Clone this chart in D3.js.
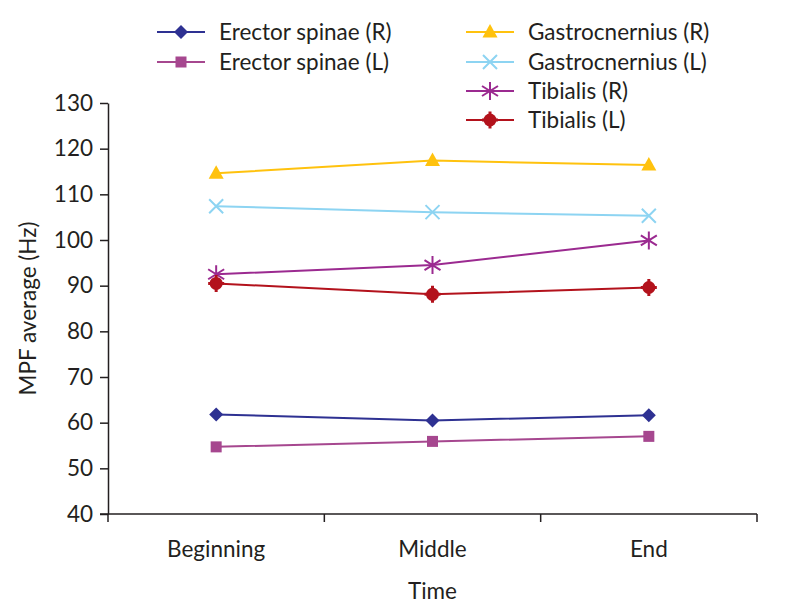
<!DOCTYPE html>
<html><head><meta charset="utf-8">
<script src="https://cdn.jsdelivr.net/npm/d3@7"></script>
<style>body{margin:0;background:#fff}svg{display:block}text{font-family:Lato,"Open Sans",sans-serif;fill:#231f20}</style>
</head><body><svg id="c" width="793" height="615"></svg>
<script>
const categories = ["Beginning","Middle","End"];
const seriesNames = ["Erector spinae (R)","Erector spinae (L)","Gastrocnernius (R)","Gastrocnernius (L)","Tibialis (R)","Tibialis (L)"];
const erectorR = [61.8, 60.5, 61.6];
const erectorL = [54.7, 55.9, 57.0];
const gastroR = [114.6, 117.4, 116.4];
const gastroL = [107.4, 106.1, 105.3];
const tibialisR = [92.5, 94.5, 99.9];
const tibialisL = [90.5, 88.1, 89.6];
const yTicks = [40,50,60,70,80,90,100,110,120,130];
const colors = ["#2e3192","#a6478f","#ffc20e","#8dd4f2","#9b2a90","#b3121c"];
const symbols = ["diamond","square","triangle","x","star6","cog"];
const values = [erectorR, erectorL, gastroR, gastroL, tibialisR, tibialisL];

const FS = 22.5;
const svg = d3.select("#c");
const mLeft = 108, mRight = 757, mTop = 103, mBottom = 514;
const x = d3.scaleBand().domain(categories).range([mLeft, mRight]);
const y = d3.scaleLinear().domain([40,130]).range([mBottom, mTop]);

// axes
const yAxis = svg.append("g").attr("transform",`translate(${mLeft},0)`)
  .call(d3.axisLeft(y).tickValues(yTicks).tickSize(8).tickSizeOuter(0));
yAxis.select(".domain").attr("stroke","#231f20").attr("stroke-width",1.5);
yAxis.selectAll(".tick line").attr("stroke","#231f20").attr("stroke-width",1.5);
yAxis.selectAll(".tick text").attr("font-size",FS).attr("x",-15).style("font-family","Lato,sans-serif").attr("fill","#231f20");

const xg = svg.append("g").attr("transform",`translate(0,${mBottom})`);
xg.append("line").attr("x1",mLeft-8).attr("x2",mRight).attr("y1",0).attr("y2",0).attr("stroke","#231f20").attr("stroke-width",1.5);
const bounds = categories.map(c=>x(c)).concat([mRight]);
xg.selectAll(".xt").data(bounds).enter().append("line")
  .attr("x1",d=>d).attr("x2",d=>d).attr("y1",0).attr("y2",8).attr("stroke","#231f20").attr("stroke-width",1.5);
xg.selectAll(".xl").data(categories).enter().append("text")
  .attr("x",d=>x(d)+x.bandwidth()/2).attr("y",43).attr("text-anchor","middle").attr("font-size",FS).text(d=>d);

svg.append("text").attr("x",(mLeft+mRight)/2).attr("y",599).attr("text-anchor","middle").attr("font-size",FS).text("Time");
svg.append("text").attr("transform",`translate(36,${(mTop+mBottom)/2}) rotate(-90)`).attr("text-anchor","middle").attr("font-size",FS).text("MPF average (Hz)");

function marker(g, type, color, cx, cy){
  const s = g.append("g").attr("transform",`translate(${cx},${cy})`);
  if(type==="diamond") s.append("path").attr("d","M0,-7L7,0L0,7L-7,0Z").attr("fill",color);
  else if(type==="square") s.append("rect").attr("x",-5.5).attr("y",-5.5).attr("width",11).attr("height",11).attr("fill",color);
  else if(type==="triangle") s.append("path").attr("d","M0,-8L7.5,5.5L-7.5,5.5Z").attr("fill",color);
  else if(type==="x") s.append("path").attr("d","M-7,-7L7,7M-7,7L7,-7").attr("stroke",color).attr("stroke-width",2).attr("fill","none");
  else if(type==="star6") s.append("path").attr("d","M0,-9L0,9M-8,-5L8,5M-8,5L8,-5").attr("stroke",color).attr("stroke-width",2).attr("fill","none");
  else if(type==="cog"){
    s.append("circle").attr("r",6.5).attr("fill",color);
    s.append("path").attr("d","M-1.5,-8.5H1.5V8.5H-1.5Z M-8,-1.5H8V1.5H-8Z").attr("fill",color);
  }
}

const line = d3.line().x((d,i)=>x(categories[i])+x.bandwidth()/2).y(d=>y(d));
values.forEach((v,k)=>{
  svg.append("path").datum(v).attr("d",line).attr("fill","none").attr("stroke",colors[k]).attr("stroke-width",2);
  v.forEach((d,i)=>marker(svg, symbols[k], colors[k], x(categories[i])+x.bandwidth()/2, y(d)));
});

// legend
const legendPos = [[157,32],[157,62],[466,32],[466,62],[466,91],[466,120]];
seriesNames.forEach((n,k)=>{
  const [lx,ly] = legendPos[k];
  svg.append("line").attr("x1",lx).attr("x2",lx+48).attr("y1",ly).attr("y2",ly).attr("stroke",colors[k]).attr("stroke-width",2);
  marker(svg, symbols[k], colors[k], lx+24, ly);
  svg.append("text").attr("x",lx+62).attr("y",ly+8).attr("font-size",FS).text(n);
});
</script></body></html>
